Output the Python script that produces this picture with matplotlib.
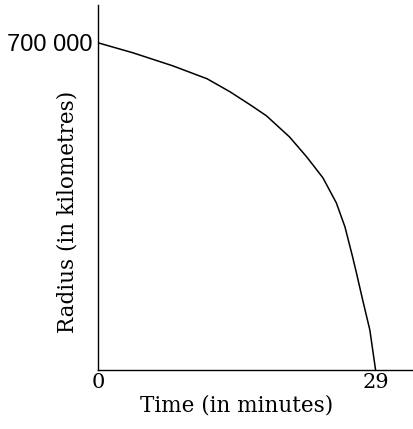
import matplotlib.pyplot as plt

# Values
time_min = [0, 3.65, 7.8, 11.4, 13.8, 15.9, 17.6, 20.0, 21.8, 23.5,
            24.9, 25.8, 26.6, 27.0, 27.65, 28.4, 29]
radius_km = [700000, 678600, 650800, 623000, 595100, 567300, 543800,
             498800, 456000, 411100, 357500, 306200, 241900, 207700,
             149900, 85600, 0]

x_ticks = [0, 29]
x_tick_labels = ["0", "29"]
y_ticks = [700000]
y_tick_labels = ["700 000"]

fig = plt.figure(figsize=(4.14, 4.29), dpi=100)
ax = fig.add_axes([0.2367, 0.1375, 0.763, 0.851])

ax.plot(time_min, radius_km, color="black", linewidth=1.1)

ax.set_xlim(0, 33)
ax.set_ylim(0, 781000)

ax.spines["top"].set_visible(False)
ax.spines["right"].set_visible(False)
ax.spines["left"].set_linewidth(1.0)
ax.spines["bottom"].set_linewidth(1.0)

ax.set_xticks(x_ticks)
ax.set_xticklabels(x_tick_labels, family="DejaVu Serif", fontsize=15)
ax.set_yticks(y_ticks)
ax.set_yticklabels(y_tick_labels, family="Liberation Sans", fontsize=17)
ax.tick_params(axis="x", length=0, pad=2)
ax.tick_params(axis="y", length=0, pad=4)

ax.set_xlabel("Time (in minutes)", family="DejaVu Serif", fontsize=15.5)
ax.xaxis.set_label_coords(0.44, -0.066)
ax.set_ylabel("Radius (in kilometres)", family="DejaVu Serif", fontsize=15.5)
ax.yaxis.set_label_coords(-0.063, 0.433)

fig.savefig("out.png", dpi=100)
